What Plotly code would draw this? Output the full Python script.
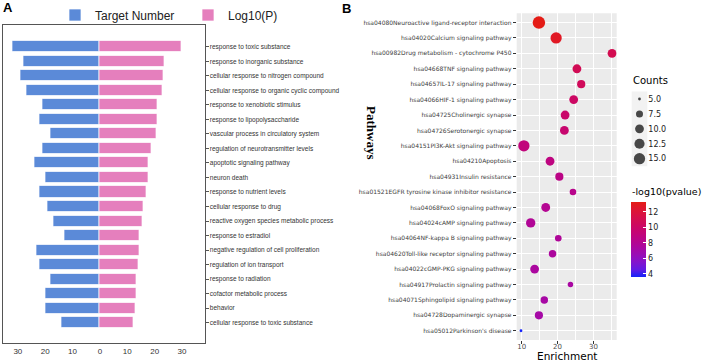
import math
import plotly.graph_objects as go

# ---------------- Panel A data ----------------
go_terms = [
    "response to toxic substance", "response to inorganic substance",
    "cellular response to nitrogen compound", "cellular response to organic cyclic compound",
    "response to xenobiotic stimulus", "response to lipopolysaccharide",
    "vascular process in circulatory system", "regulation of neurotransmitter levels",
    "apoptotic signaling pathway", "neuron death", "response to nutrient levels",
    "cellular response to drug", "reactive oxygen species metabolic process",
    "response to estradiol", "negative regulation of cell proliferation",
    "regulation of ion transport", "response to radiation", "cofactor metabolic process",
    "behavior", "cellular response to toxic substance",
]
target_number = [32, 28, 29, 27, 21, 22, 18, 21, 24, 20, 22, 19, 17, 13, 23, 22, 18, 20, 20, 14]
log10_p = [29.9, 23.7, 23.1, 22.8, 20.9, 20.9, 20.8, 19.0, 17.8, 17.7, 17.1, 15.9, 15.4,
           14.4, 14.4, 14.2, 13.4, 13.2, 13.1, 12.3]
a_ticks = [-30, -20, -10, 0, 10, 20, 30]
a_ticktext = ["30", "20", "10", "0", "10", "20", "30"]

# ---------------- Panel B data ----------------
pathways = [
    "hsa04080Neuroactive ligand-receptor interaction", "hsa04020Calcium signaling pathway",
    "hsa00982Drug metabolism - cytochrome P450", "hsa04668TNF signaling pathway",
    "hsa04657IL-17 signaling pathway", "hsa04066HIF-1 signaling pathway",
    "hsa04725Cholinergic synapse", "hsa04726Serotonergic synapse",
    "hsa04151PI3K-Akt signaling pathway", "hsa04210Apoptosis", "hsa04931Insulin resistance",
    "hsa01521EGFR tyrosine kinase inhibitor resistance", "hsa04068FoxO signaling pathway",
    "hsa04024cAMP signaling pathway", "hsa04064NF-kappa B signaling pathway",
    "hsa04620Toll-like receptor signaling pathway", "hsa04022cGMP-PKG signaling pathway",
    "hsa04917Prolactin signaling pathway", "hsa04071Sphingolipid signaling pathway",
    "hsa04728Dopaminergic synapse", "hsa05012Parkinson's disease",
]
enrichment = [14.8, 19.6, 35.2, 25.4, 26.6, 24.5, 22.1, 21.9, 10.6, 17.9, 20.5, 24.3, 16.7,
              12.5, 20.2, 18.6, 13.6, 23.6, 16.3, 14.8, 9.8]
counts = [18, 15, 10, 10, 9, 10, 10, 10, 15, 10, 9, 7, 10, 11, 7, 8, 10, 6, 8, 9, 5]
neg_log10_p = [13.3, 12.8, 11.0, 10.8, 10.6, 10.2, 9.9, 9.7, 9.1, 8.9, 8.6, 8.4, 8.1, 7.9,
               7.8, 7.6, 7.5, 7.4, 7.3, 7.2, 3.65]
count_breaks = [5.0, 7.5, 10.0, 12.5, 15.0]
count_labels = ["5.0", "7.5", "10.0", "12.5", "15.0"]

W, H = 708, 361


def px(v):
    return v / W


def py(v):
    return 1 - v / H


# ---- ggplot-like Lab colour gradient (blue -> red) ----
def _lin(c):
    c = c / 255
    return c / 12.92 if c <= 0.04045 else ((c + 0.055) / 1.055) ** 2.4


def _gam(c):
    c = 12.92 * c if c <= 0.0031308 else 1.055 * c ** (1 / 2.4) - 0.055
    return int(max(0, min(255, round(c * 255))))


def rgb2lab(rgb):
    r, g, b = [_lin(v) for v in rgb]
    X = 0.4124 * r + 0.3576 * g + 0.1805 * b
    Y = 0.2126 * r + 0.7152 * g + 0.0722 * b
    Z = 0.0193 * r + 0.1192 * g + 0.9505 * b
    f = lambda t: t ** (1 / 3) if t > 0.008856 else 7.787 * t + 16 / 116
    fx, fy, fz = f(X / 0.95047), f(Y), f(Z / 1.08883)
    return (116 * fy - 16, 500 * (fx - fy), 200 * (fy - fz))


def lab2rgb(lab):
    L, a, b = lab
    fy = (L + 16) / 116
    fx = fy + a / 500
    fz = fy - b / 200
    finv = lambda t: t ** 3 if t ** 3 > 0.008856 else (t - 16 / 116) / 7.787
    X, Y, Z = 0.95047 * finv(fx), finv(fy), 1.08883 * finv(fz)
    r = 3.2406 * X - 1.5372 * Y - 0.4986 * Z
    g = -0.9689 * X + 1.8758 * Y + 0.0415 * Z
    bb = 0.0557 * X - 0.2040 * Y + 1.0570 * Z
    return [_gam(v) for v in (r, g, bb)]


low_lab = rgb2lab((20, 35, 250))
high_lab = rgb2lab((228, 28, 22))
colorscale = []
for i in range(11):
    t = i / 10
    lab = [low_lab[k] + (high_lab[k] - low_lab[k]) * t for k in range(3)]
    r, g, b = lab2rgb(lab)
    colorscale.append([t, f"rgb({r},{g},{b})"])

# ---- ggplot-like area size scale ----
cmin, cmax = min(counts), max(counts)


def diam(c):
    return 2.8 + 9.7 * math.sqrt(max(c - cmin, 0) / (cmax - cmin))


fig = go.Figure()

# Panel A bars
fig.add_trace(go.Bar(
    y=go_terms, x=[-v for v in target_number], orientation="h", name="Target Number",
    marker=dict(color="#5b8ad8", line=dict(color="rgba(255,255,255,0.7)", width=1)),
    width=0.76, xaxis="x", yaxis="y", legend="legend", hoverinfo="skip",
))
fig.add_trace(go.Bar(
    y=go_terms, x=log10_p, orientation="h", name="Log10(P)",
    marker=dict(color="#e57fbd", line=dict(color="rgba(255,255,255,0.7)", width=1)),
    width=0.76, xaxis="x", yaxis="y", legend="legend", hoverinfo="skip",
))

# Panel B dots
fig.add_trace(go.Scatter(
    x=enrichment, y=pathways, mode="markers", xaxis="x2", yaxis="y2", showlegend=False,
    marker=dict(size=[diam(c) for c in counts], sizemode="diameter", opacity=1,
                color=neg_log10_p, coloraxis="coloraxis", line=dict(width=0)),
))

# Size legend (Counts) drawn on its own small axes
fig.add_trace(go.Scatter(
    x=[0] * len(count_breaks), y=count_breaks, mode="markers", xaxis="x3", yaxis="y3",
    showlegend=False, hoverinfo="skip",
    marker=dict(size=[diam(c) for c in count_breaks], sizemode="diameter", color="black",
                line=dict(width=0)),
))

sans = "Liberation Sans, Arial, sans-serif"
dejavu = "DejaVu Sans, sans-serif"

fig.update_layout(
    width=W, height=H, margin=dict(l=0, r=0, t=0, b=0, autoexpand=False),
    paper_bgcolor="white", plot_bgcolor="rgba(0,0,0,0)",
    barmode="overlay", bargap=0,
    font=dict(family=sans, color="#222"),
    xaxis=dict(domain=[px(2.5), px(204.5)], range=[-35.6, 38.2], tickvals=a_ticks,
               ticktext=a_ticktext, ticks="", showgrid=False, zeroline=False,
               showline=True, mirror=True, linecolor="#555", linewidth=1,
               tickfont=dict(family=sans, size=8, color="#333"), fixedrange=True),
    yaxis=dict(domain=[py(343), py(25)], range=[len(go_terms) - 1 + 1.4, -1.5],
               side="right", ticks="outside", ticklen=3, tickcolor="#555",
               showgrid=False, showline=True, mirror=True, linecolor="#555", linewidth=1,
               tickfont=dict(family=sans, size=6.5, color="#333"), anchor="x"),
    xaxis2=dict(domain=[px(516.7), px(616.7)], range=[8.6, 36.5], tick0=10, dtick=10,
                showgrid=True, gridcolor="white", gridwidth=1, zeroline=False,
                minor=dict(dtick=5, tick0=0, showgrid=True, gridcolor="white", gridwidth=0.5),
                ticks="outside", ticklen=3, tickcolor="#333", ticklabelstandoff=-3,
                tickfont=dict(family=dejavu, size=7, color="#4d4d4d"), anchor="y2"),
    yaxis2=dict(domain=[py(340), py(13.3)], range=[len(pathways) - 1 + 0.6, -0.6],
                showgrid=True, gridcolor="white", gridwidth=1, zeroline=False,
                ticks="outside", ticklen=3, tickcolor="#333",
                tickfont=dict(family=dejavu, size=6, color="#404040"), anchor="x2"),
    xaxis3=dict(domain=[px(631.7), px(647.3)], range=[-1, 1], visible=False, anchor="y3"),
    yaxis3=dict(domain=[py(166.2), py(91.5)], range=[16.26, 3.74], side="right",
                tickvals=count_breaks, ticktext=count_labels, ticks="", showgrid=False,
                zeroline=False, showline=False, anchor="x3",
                tickfont=dict(family=dejavu, size=8, color="#222")),
    coloraxis=dict(
        colorscale=colorscale,
        colorbar=dict(x=px(631), xanchor="left", xpad=0, y=py(239.2), yanchor="middle",
                      ypad=0, lenmode="pixels", len=75, thickness=15, outlinewidth=0,
                      tick0=0, dtick=2, ticks="inside", ticklen=3, tickcolor="white",
                      tickfont=dict(family=dejavu, size=8, color="#222")),
    ),
    legend=dict(orientation="h", x=px(55), y=py(15), xanchor="left", yanchor="middle",
                font=dict(family=sans, size=12, color="#222"), bgcolor="rgba(0,0,0,0)",
                entrywidth=88, entrywidthmode="pixels", itemclick=False),
    shapes=[
        dict(type="rect", xref="x2 domain", yref="y2 domain", x0=0, x1=1, y0=0, y1=1,
             fillcolor="#ebebeb", line=dict(width=0), layer="below"),
        dict(type="rect", xref="x3 domain", yref="y3 domain", x0=0, x1=1, y0=0, y1=1,
             fillcolor="#f2f2f2", line=dict(width=0), layer="below"),
    ],
    annotations=[
        dict(text="<b>A</b>", x=px(1), y=py(7), xref="paper", yref="paper", xanchor="left",
             yanchor="middle", showarrow=False, font=dict(family=sans, size=13, color="black")),
        dict(text="<b>B</b>", x=px(340), y=py(8), xref="paper", yref="paper", xanchor="left",
             yanchor="middle", showarrow=False, font=dict(family=sans, size=13, color="black")),
        dict(text="<b>Pathways</b>", x=px(372), y=py(132), xref="paper", yref="paper",
             textangle=90, showarrow=False, xanchor="center", yanchor="middle",
             font=dict(family="Liberation Serif, Times New Roman, serif", size=13, color="black")),
        dict(text="Enrichment", x=px(566.7), y=py(356), xref="paper", yref="paper",
             xanchor="center", yanchor="middle",
             showarrow=False, font=dict(family=dejavu, size=10.5, color="black")),
        dict(text="Counts", x=px(631), y=py(81), xref="paper", yref="paper", xanchor="left",
             yanchor="middle",
             showarrow=False, font=dict(family=dejavu, size=10, color="black")),
        dict(text="-log10(pvalue)", x=px(630), y=py(191), xref="paper", yref="paper",
             xanchor="left", yanchor="middle",
             showarrow=False, font=dict(family=dejavu, size=9.5, color="black")),
    ],
)

fig.write_html("out.html", config={"displayModeBar": False},
               post_script="document.body.style.margin='0';document.body.style.padding='0';")
